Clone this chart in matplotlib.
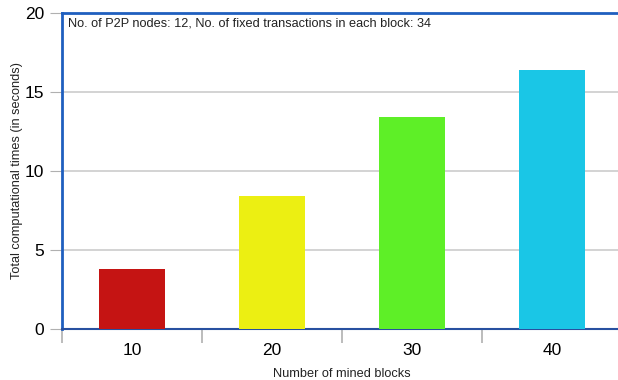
import matplotlib
matplotlib.use("Agg")
import matplotlib.pyplot as plt

plt.rcParams['font.family'] = ['Liberation Sans', 'DejaVu Sans']

blocks = ['10', '20', '30', '40']
times = [3.8, 8.4, 13.4, 16.35]
colors = ['#c51413', '#ecef12', '#5eef27', '#1ac6e6']
note = 'No. of P2P nodes: 12, No. of fixed transactions in each block: 34'

fig = plt.figure(figsize=(6.18, 3.8), dpi=100)
ax = fig.add_axes([0.1003, 0.1342, 0.906, 0.8328])

x = range(len(blocks))
ax.bar(x, times, width=0.47, color=colors, zorder=3)

ax.set_xlim(-0.5, len(blocks) - 0.5)
ax.set_ylim(0, 20)
ax.set_yticks([0, 5, 10, 15, 20])
ax.set_xticks(list(x))
ax.set_xticklabels(blocks)
ax.set_xticks([i - 0.5 for i in range(len(blocks) + 1)], minor=True)

ax.grid(axis='y', color='#cccccc', linewidth=1.2, zorder=0)
ax.tick_params(axis='y', length=9, color='#b0b0b0', labelsize=12.5, pad=4)
ax.tick_params(axis='x', which='major', length=0, labelsize=12.5, pad=10)
ax.tick_params(axis='x', which='minor', length=10, color='#b0b0b0', width=1.2)

for side in ['left', 'top']:
    ax.spines[side].set_color('#1f5fbf')
    ax.spines[side].set_linewidth(2.0)
ax.spines['bottom'].set_color('#2850a0')
ax.spines['bottom'].set_linewidth(1.5)
ax.spines['right'].set_visible(False)

ax.set_xlabel('Number of mined blocks', fontsize=9.2, labelpad=7, color='#222222')
ax.set_ylabel('Total computational times (in seconds)', fontsize=9.2, labelpad=1, color='#222222')

ax.text(0.011, 0.985, note, transform=ax.transAxes, fontsize=9.2,
        ha='left', va='top', color='#222222')

fig.savefig('out.png', dpi=100)
